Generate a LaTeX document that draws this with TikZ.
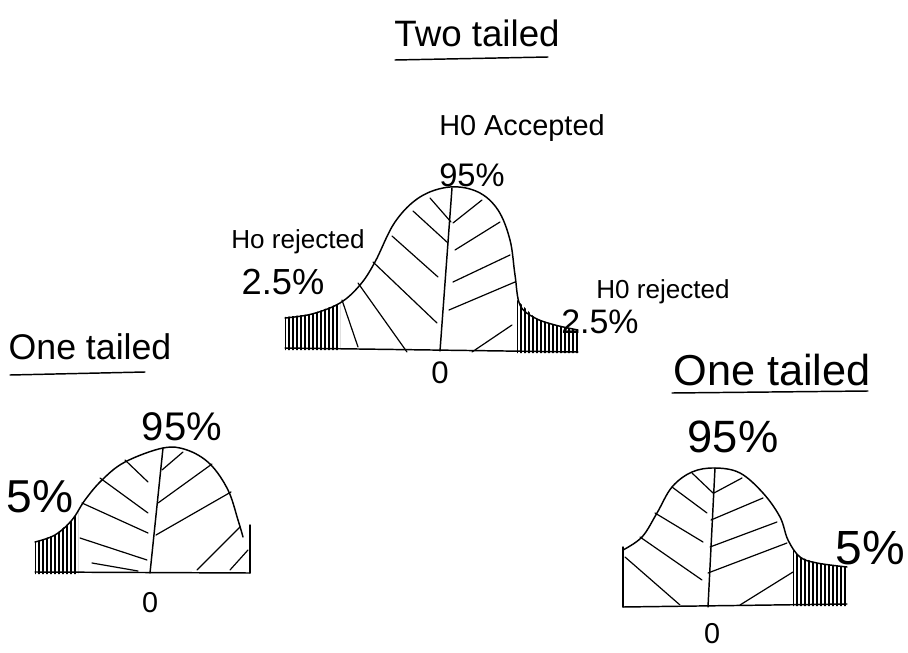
\documentclass[tikz,border=0pt]{standalone}
\usepackage{fontspec}
\setmainfont{Liberation Sans}
\usepackage{graphicx}
\begin{document}
\begin{tikzpicture}[x=0.75pt,y=-0.75pt,line cap=round,line join=round,
  curve/.style={line width=1.1pt},
  hatch/.style={line width=0.9pt},
  tailfill/.style={line width=0.8pt},
  lab/.style={inner sep=0pt,anchor=center}]
\useasboundingbox (0,0) rectangle (908,653);

% ---------- titles and labels ----------
\node[lab] (tt) at (477,33) {\resizebox{124pt}{!}{Two tailed}};
\draw[curve] (395,60) -- (548,57);
\node[lab] (acc) at (522,128) {\resizebox{124pt}{!}{H0 Accepted}};
\node[lab] (p95a) at (472,175) {\resizebox{49pt}{!}{95\%}};
\node[lab] (rejl) at (298,242) {\resizebox{100pt}{!}{Ho rejected}};
\node[lab] (p25l) at (283,282) {\resizebox{62pt}{!}{2.5\%}};
\node[lab] (rejr) at (663,292) {\resizebox{100pt}{!}{H0 rejected}};
\node[lab] (p25r) at (600,322) {\resizebox{58pt}{!}{2.5\%}};
\node[lab] (z1) at (440,373) {\resizebox{13pt}{!}{0}};

\node[lab] (ot1) at (90,347) {\resizebox{122pt}{!}{One tailed}};
\draw[curve] (10,375) -- (145,372);
\node[lab] (p95b) at (182,427) {\resizebox{60pt}{!}{95\%}};
\node[lab] (p5b) at (40,497) {\resizebox{50pt}{!}{5\%}};
\node[lab] (z2) at (150,603) {\resizebox{12pt}{!}{0}};

\node[lab] (ot2) at (772,370) {\resizebox{148pt}{!}{One tailed}};
\draw[curve] (672,393) -- (868,391);
\node[lab] (p95c) at (733,437) {\resizebox{68pt}{!}{95\%}};
\node[lab] (p5c) at (870,548) {\resizebox{52pt}{!}{5\%}};
\node[lab] (z3) at (712,634) {\resizebox{12pt}{!}{0}};

% ---------- top: two tailed ----------
\draw[curve] (285,348) -- (578,352);
\draw[curve] plot[smooth,tension=0.6] coordinates {(285,318) (312,314) (340,303) (360,285) (375,262) (395,222) (420,197) (450,187) (478,192) (498,210) (510,240) (515,275) (520,305) (535,318) (555,325) (578,330)};
\draw[curve] (452,188) -- (440,351);
\begin{scope}
  \clip (285,350) -- (285,317) -- (312,314) -- (340,303) -- (340,350) -- cycle;
  \foreach \x in {285,289,...,341} \draw[tailfill] (\x,295) -- (\x,352);
\end{scope}
\begin{scope}
  \clip (517,353) -- (517,300) -- (535,318) -- (555,325) -- (578,330) -- (578,353) -- cycle;
  \foreach \x in {517,521,...,577} \draw[tailfill] (\x,295) -- (\x,353);
\end{scope}
\foreach \a/\b in {{(342,300)}/{(358,347)},{(358,283)}/{(407,352)},{(373,262)}/{(437,323)},{(392,236)}/{(438,277)},{(413,211)}/{(448,243)},{(430,198)}/{(451,222)},
  {(453,223)}/{(482,200)},{(455,250)}/{(500,222)},{(453,282)}/{(510,255)},{(449,310)}/{(515,282)},{(472,352)}/{(512,325)}}
  \draw[hatch] \a -- \b;

% ---------- bottom left: one tailed ----------
\draw[curve] (35,572) -- (250,573);
\draw[curve] plot[smooth,tension=0.6] coordinates {(35,542) (55,535) (72,520) (85,500) (102,480) (125,462) (163,448) (187,450) (210,464) (228,490) (238,520) (243,537)};
\draw[curve] (250,525) -- (250,573);
\draw[curve] (163,448) -- (150,573);
\begin{scope}
  \clip (35,574) -- (35,542) -- (55,535) -- (72,520) -- (78,512) -- (78,574) -- cycle;
  \foreach \x in {35,39,...,79} \draw[tailfill] (\x,505) -- (\x,574);
\end{scope}
\foreach \a/\b in {{(125,460)}/{(148,482)},{(100,478)}/{(148,513)},{(82,503)}/{(148,533)},{(80,538)}/{(147,560)},{(92,563)}/{(138,571)},
  {(162,470)}/{(183,452)},{(158,503)}/{(212,464)},{(156,535)}/{(231,492)},{(197,570)}/{(240,527)},{(230,570)}/{(248,550)}}
  \draw[hatch] \a -- \b;

% ---------- bottom right: one tailed ----------
\draw[curve] (623,547) -- (623,607);
\draw[curve] plot[smooth,tension=0.6] coordinates {(623,550) (642,537) (657,513) (672,487) (692,472) (715,468) (740,473) (763,493) (780,517) (788,540) (800,557) (817,563) (847,567)};
\draw[curve] (623,607) -- (847,604);
\draw[curve] (715,468) -- (708,607);
\begin{scope}
  \clip (793,606) -- (793,550) -- (800,557) -- (817,563) -- (847,567) -- (847,606) -- cycle;
  \foreach \x in {793,797,...,847} \draw[tailfill] (\x,545) -- (\x,606);
\end{scope}
\foreach \a/\b in {{(692,473)}/{(713,493)},{(672,487)}/{(707,513)},{(655,513)}/{(703,542)},{(640,537)}/{(702,580)},{(625,557)}/{(680,605)},
  {(714,493)}/{(742,478)},{(711,520)}/{(763,498)},{(710,547)}/{(777,522)},{(708,573)}/{(787,543)},{(740,605)}/{(793,572)}}
  \draw[hatch] \a -- \b;
\end{tikzpicture}
\end{document}
